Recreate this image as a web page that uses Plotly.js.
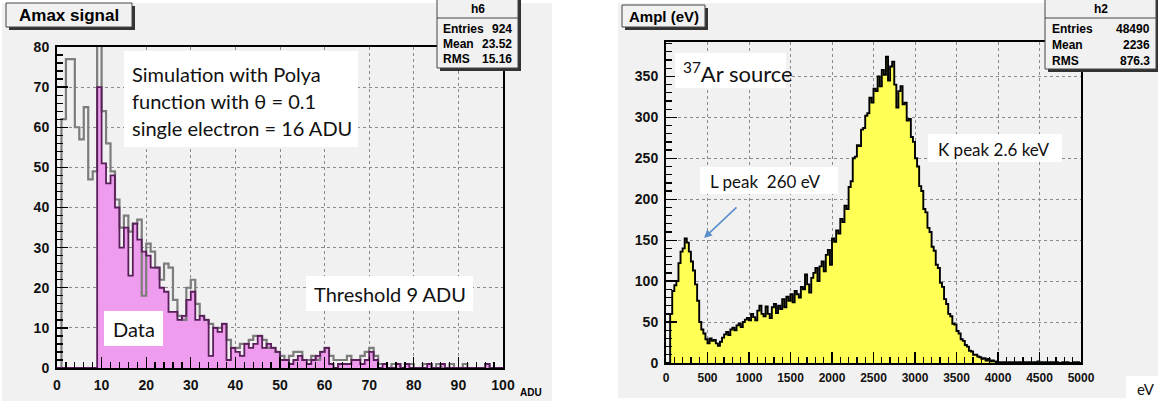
<!DOCTYPE html>
<html><head><meta charset="utf-8">
<script src="https://cdn.plot.ly/plotly-3.0.1.min.js"></script>
<style>html,body{margin:0;padding:0;background:#fff;}#chart{width:1158px;height:403px;}</style>
</head><body><div id="chart"></div>
<script>
const W = 1158, H = 403;

// ---- Left histogram: Amax signal (ADU), 1 ADU bins from 0 ----
const aduBinWidth = 1;
const simCounts = [0,62,77,77,60,57,65,47,49,85, 64,56,49,42,35,38,34,36,37,18,
  31,29,25,22,26,25,17,13,12,20, 22,16,13,12,11,10,10,11,7,5,
  5,6,6,7,8,8,7,5,5,4, 3,2,3,4,4,2,2,3,2,4,
  5,3,2,2,2,3,2,2,3,4, 5,3,1,1,0,1,1,0,1,1,
  0,0,1,1,0,1,0,0,1,0, 0,1,0,0,0,0,1,0,0,0];
const dataCounts = [0,0,0,0,0,0,0,0,0,70, 51,46,48,40,30,35,23,36,32,29,
  28,25,25,20,19,14,14,12,13,17, 19,12,13,12,3,10,9,11,2,5,
  4,3,6,5,6,8,5,6,5,4, 2,2,1,2,3,2,1,2,3,4,
  5,1,0,1,1,1,2,2,1,2, 4,2,0,1,0,0,1,0,1,0,
  0,0,0,1,0,0,1,0,0,0, 0,0,0,0,0,0,1,0,0,0];
const leftXTicks = [0,10,20,30,40,50,60,70,80,90,100];
const leftYTicks = [0,10,20,30,40,50,60,70,80];

// ---- Right histogram: Ampl (eV), 25 eV bins from 0 ----
const evBinWidth = 25;
const arCounts = [0,0,60,88,95,100,122,136,140,152, 147,136,124,113,96,76,50,41,36,29,
  24,30,27,28,24,21,26,31,35,38, 34,41,43,40,46,48,44,50,53,55,
  52,60,56,52,64,70,60,57,69,60, 55,68,72,61,70,66,78,68,81,76,
  84,74,88,84,80,93,90,108,96,86, 104,110,116,100,118,124,112,132,138,120,
  152,148,162,158,176,172,192,188,215,222, 250,252,266,265,285,287,302,305,324,318,
  335,332,350,338,358,352,374,345,362,368, 340,312,332,338,316,318,296,298,276,270,
  250,240,216,210,188,184,165,160,142,137, 120,116,98,93,78,72,60,57,48,47,
  39,36,29,27,22,20,15,14,10,10, 8,7,5,6,3,5,2,3,2,1,
  1,0,1,1,0,1,0,1,1,0, 1,0,1,0,1,1,0,1,0,2,
  0,1,0,1,0,1,1,0,1,0, 0,1,0,1,0,0,1,0,1,0];
const rightXTicks = [0,500,1000,1500,2000,2500,3000,3500,4000,4500,5000];
const rightYTicks = [0,50,100,150,200,250,300,350];

function steps(counts, bw) {
  const x = [], y = [];
  counts.forEach((c, i) => { x.push(i * bw); y.push(c); });
  x.push(counts.length * bw); y.push(counts[counts.length - 1]);
  return {x, y};
}
const simS = steps(simCounts, aduBinWidth);
const dataS = steps(dataCounts, aduBinWidth);
const arS = steps(arCounts, evBinWidth);

const px = v => v / W, py = v => 1 - v / H;

const tickFont = {family: 'Liberation Sans, Arial, sans-serif', size: 14, weight: 'bold', color: '#111'};
function axisBase(extra) {
  return Object.assign({
    showline: true, linecolor: '#000', linewidth: 2, mirror: true,
    ticks: 'inside', ticklen: 11, tickwidth: 1.3, tickcolor: '#000',
    showgrid: true, gridcolor: '#8a8a8a', griddash: 'dot', gridwidth: 1,
    zeroline: false, tickfont: tickFont, ticklabelstandoff: 3
  }, extra);
}
const minorTicks = (d) => ({ticks: 'inside', ticklen: 6, tickcolor: '#000', dtick: d, showgrid: false});

const traces = [
  {x: dataS.x, y: dataS.y, type: 'scatter', mode: 'lines', line: {shape: 'hv', width: 0, color: 'rgba(0,0,0,0)'},
   fill: 'tozeroy', fillcolor: '#ef9cef', xaxis: 'x', yaxis: 'y', hoverinfo: 'skip'},
  {x: simS.x, y: simS.y, type: 'scatter', mode: 'lines', line: {shape: 'hv', width: 2.2, color: '#7d7d7d'},
   xaxis: 'x', yaxis: 'y'},
  {x: dataS.x, y: dataS.y, type: 'scatter', mode: 'lines', line: {shape: 'hv', width: 1.8, color: '#5a1f5a'},
   xaxis: 'x', yaxis: 'y'},
  {x: arS.x, y: arS.y, type: 'scatter', mode: 'lines', line: {shape: 'hv', width: 1.9, color: '#000'},
   fill: 'tozeroy', fillcolor: '#ffff55', xaxis: 'x2', yaxis: 'y2'}
];

const shapes = [];
const annotations = [];
function rectAbove(x0, y0, x1, y1, fill, lineColor, lw) {
  shapes.push({type: 'rect', xref: 'paper', yref: 'paper', x0: px(x0), x1: px(x1), y0: py(y1), y1: py(y0),
    fillcolor: fill, line: {color: lineColor || 'rgba(0,0,0,0)', width: lw || 0}, layer: 'above'});
}
function rectBelow(x0, y0, x1, y1, fill) {
  shapes.push({type: 'rect', xref: 'paper', yref: 'paper', x0: px(x0), x1: px(x1), y0: py(y1), y1: py(y0),
    fillcolor: fill, line: {width: 0}, layer: 'below'});
}
function line(x0, y0, x1, y1, color, w) {
  shapes.push({type: 'line', xref: 'paper', yref: 'paper', x0: px(x0), x1: px(x1), y0: py(y0), y1: py(y1),
    line: {color: color, width: w}, layer: 'above'});
}
function text(t, x, y, opts) {
  annotations.push(Object.assign({text: t, x: px(x), y: py(y), xref: 'paper', yref: 'paper', showarrow: false,
    xanchor: 'left', yanchor: 'middle', font: {family: 'Liberation Sans, Arial, sans-serif', size: 13, color: '#000'}}, opts));
}
const calib = 'Lato, Open Sans, sans-serif';
const bold = (s) => ({family: 'Liberation Sans, Arial, sans-serif', size: s, weight: 'bold', color: '#000'});
const cal = (s) => ({family: calib, size: s, color: '#111'});

// panel backgrounds
rectBelow(2, 3, 552, 401, '#f1f1f1');
rectBelow(618, 3, 1158, 398, '#f1f1f1');

// title boxes with shadow
rectAbove(9, 6, 135, 30, '#333');
rectAbove(6, 3, 132, 27, '#f1f1f1', '#444', 1);
text('Amax signal', 69, 15.5, {xanchor: 'center', font: bold(17)});
rectAbove(625, 8, 708, 30, '#333');
rectAbove(622, 5, 705, 27, '#f1f1f1', '#444', 1);
text('Ampl (eV)', 663.5, 16.5, {xanchor: 'center', font: bold(15)});

// stats boxes
rectAbove(440, -2, 521, 71, '#333');
rectAbove(437, -5, 518, 68, '#f1f1f1', '#444', 1);
line(437, 18, 518, 18, '#444', 1);
text('h6', 477.5, 9, {xanchor: 'center', font: bold(12)});
text('Entries', 441, 29, {font: bold(12)}); text('924', 514, 29, {xanchor: 'right', font: bold(12)});
text('Mean', 441, 44, {font: bold(12)}); text('23.52', 514, 44, {xanchor: 'right', font: bold(12)});
text('RMS', 441, 59, {font: bold(12)}); text('15.16', 514, 59, {xanchor: 'right', font: bold(12)});

rectAbove(1048, -2, 1161, 72, '#333');
rectAbove(1045, -5, 1156, 69, '#f1f1f1', '#444', 1);
line(1045, 18, 1156, 18, '#444', 1);
text('h2', 1100.5, 9, {xanchor: 'center', font: bold(12)});
text('Entries', 1050, 29, {font: bold(12)}); text('48490', 1152, 29, {xanchor: 'right', font: bold(12)});
text('Mean', 1050, 45, {font: bold(12)}); text('2236', 1152, 45, {xanchor: 'right', font: bold(12)});
text('RMS', 1050, 61, {font: bold(12)}); text('876.3', 1152, 61, {xanchor: 'right', font: bold(12)});

// white label boxes
rectAbove(124, 51, 358, 147, '#ffffff');
text('Simulation with Polya', 130, 74, {font: cal(20)});
text('function with θ = 0.1', 130, 101, {font: cal(20)});
text('single electron = 16 ADU', 130, 128, {font: cal(20)});
rectAbove(306, 276, 473, 311, '#ffffff');
text('Threshold 9 ADU', 389.5, 294, {xanchor: 'center', font: cal(20)});
rectAbove(104, 311, 163, 346, '#ffffff');
text('Data', 133.5, 329, {xanchor: 'center', font: cal(20)});

rectAbove(675, 53, 786, 88, '#ffffff');
text('<sup>37</sup>Ar source', 681, 72, {font: cal(22)});
rectAbove(700, 167, 838, 194, '#ffffff');
text('L peak  260 eV', 708, 181, {font: cal(17)});
rectAbove(928, 134, 1062, 162, '#ffffff');
text('K peak 2.6 keV', 936, 149, {font: cal(17)});

// arrow pointing at the L peak
annotations.push({x: px(704), y: py(238), xref: 'paper', yref: 'paper', text: ' ', showarrow: true,
  ax: 35, ay: -33, arrowhead: 2, arrowsize: 1, arrowwidth: 1.6, arrowcolor: '#5b8fcb', font: {size: 6}});

// axis unit labels
text('ADU', 531, 392, {xanchor: 'center', font: bold(10)});
rectAbove(1126, 376, 1158, 403, '#ffffff');
text('eV', 1146, 389, {xanchor: 'center', font: cal(15)});

const layout = {
  width: W, height: H, margin: {l: 0, r: 0, t: 0, b: 0},
  paper_bgcolor: '#ffffff', plot_bgcolor: 'rgba(0,0,0,0)', showlegend: false,
  xaxis: axisBase({domain: [px(57), px(503)], range: [0, 100], tickvals: leftXTicks, anchor: 'y', minor: minorTicks(2)}),
  yaxis: axisBase({domain: [py(368), py(47)], range: [0, 80], tickvals: leftYTicks, anchor: 'x', minor: minorTicks(2)}),
  xaxis2: axisBase({domain: [px(666), px(1081)], range: [0, 5000], tickvals: rightXTicks, anchor: 'y2',
    tickfont: {family: 'Liberation Sans, Arial, sans-serif', size: 12, weight: 'bold', color: '#111'}, minor: minorTicks(100)}),
  yaxis2: axisBase({domain: [py(363), py(42)], range: [0, 392], tickvals: rightYTicks, anchor: 'x2', minor: minorTicks(10)}),
  shapes: shapes, annotations: annotations
};

Plotly.newPlot('chart', traces, layout, {displayModeBar: false, staticPlot: true});
</script></body></html>
